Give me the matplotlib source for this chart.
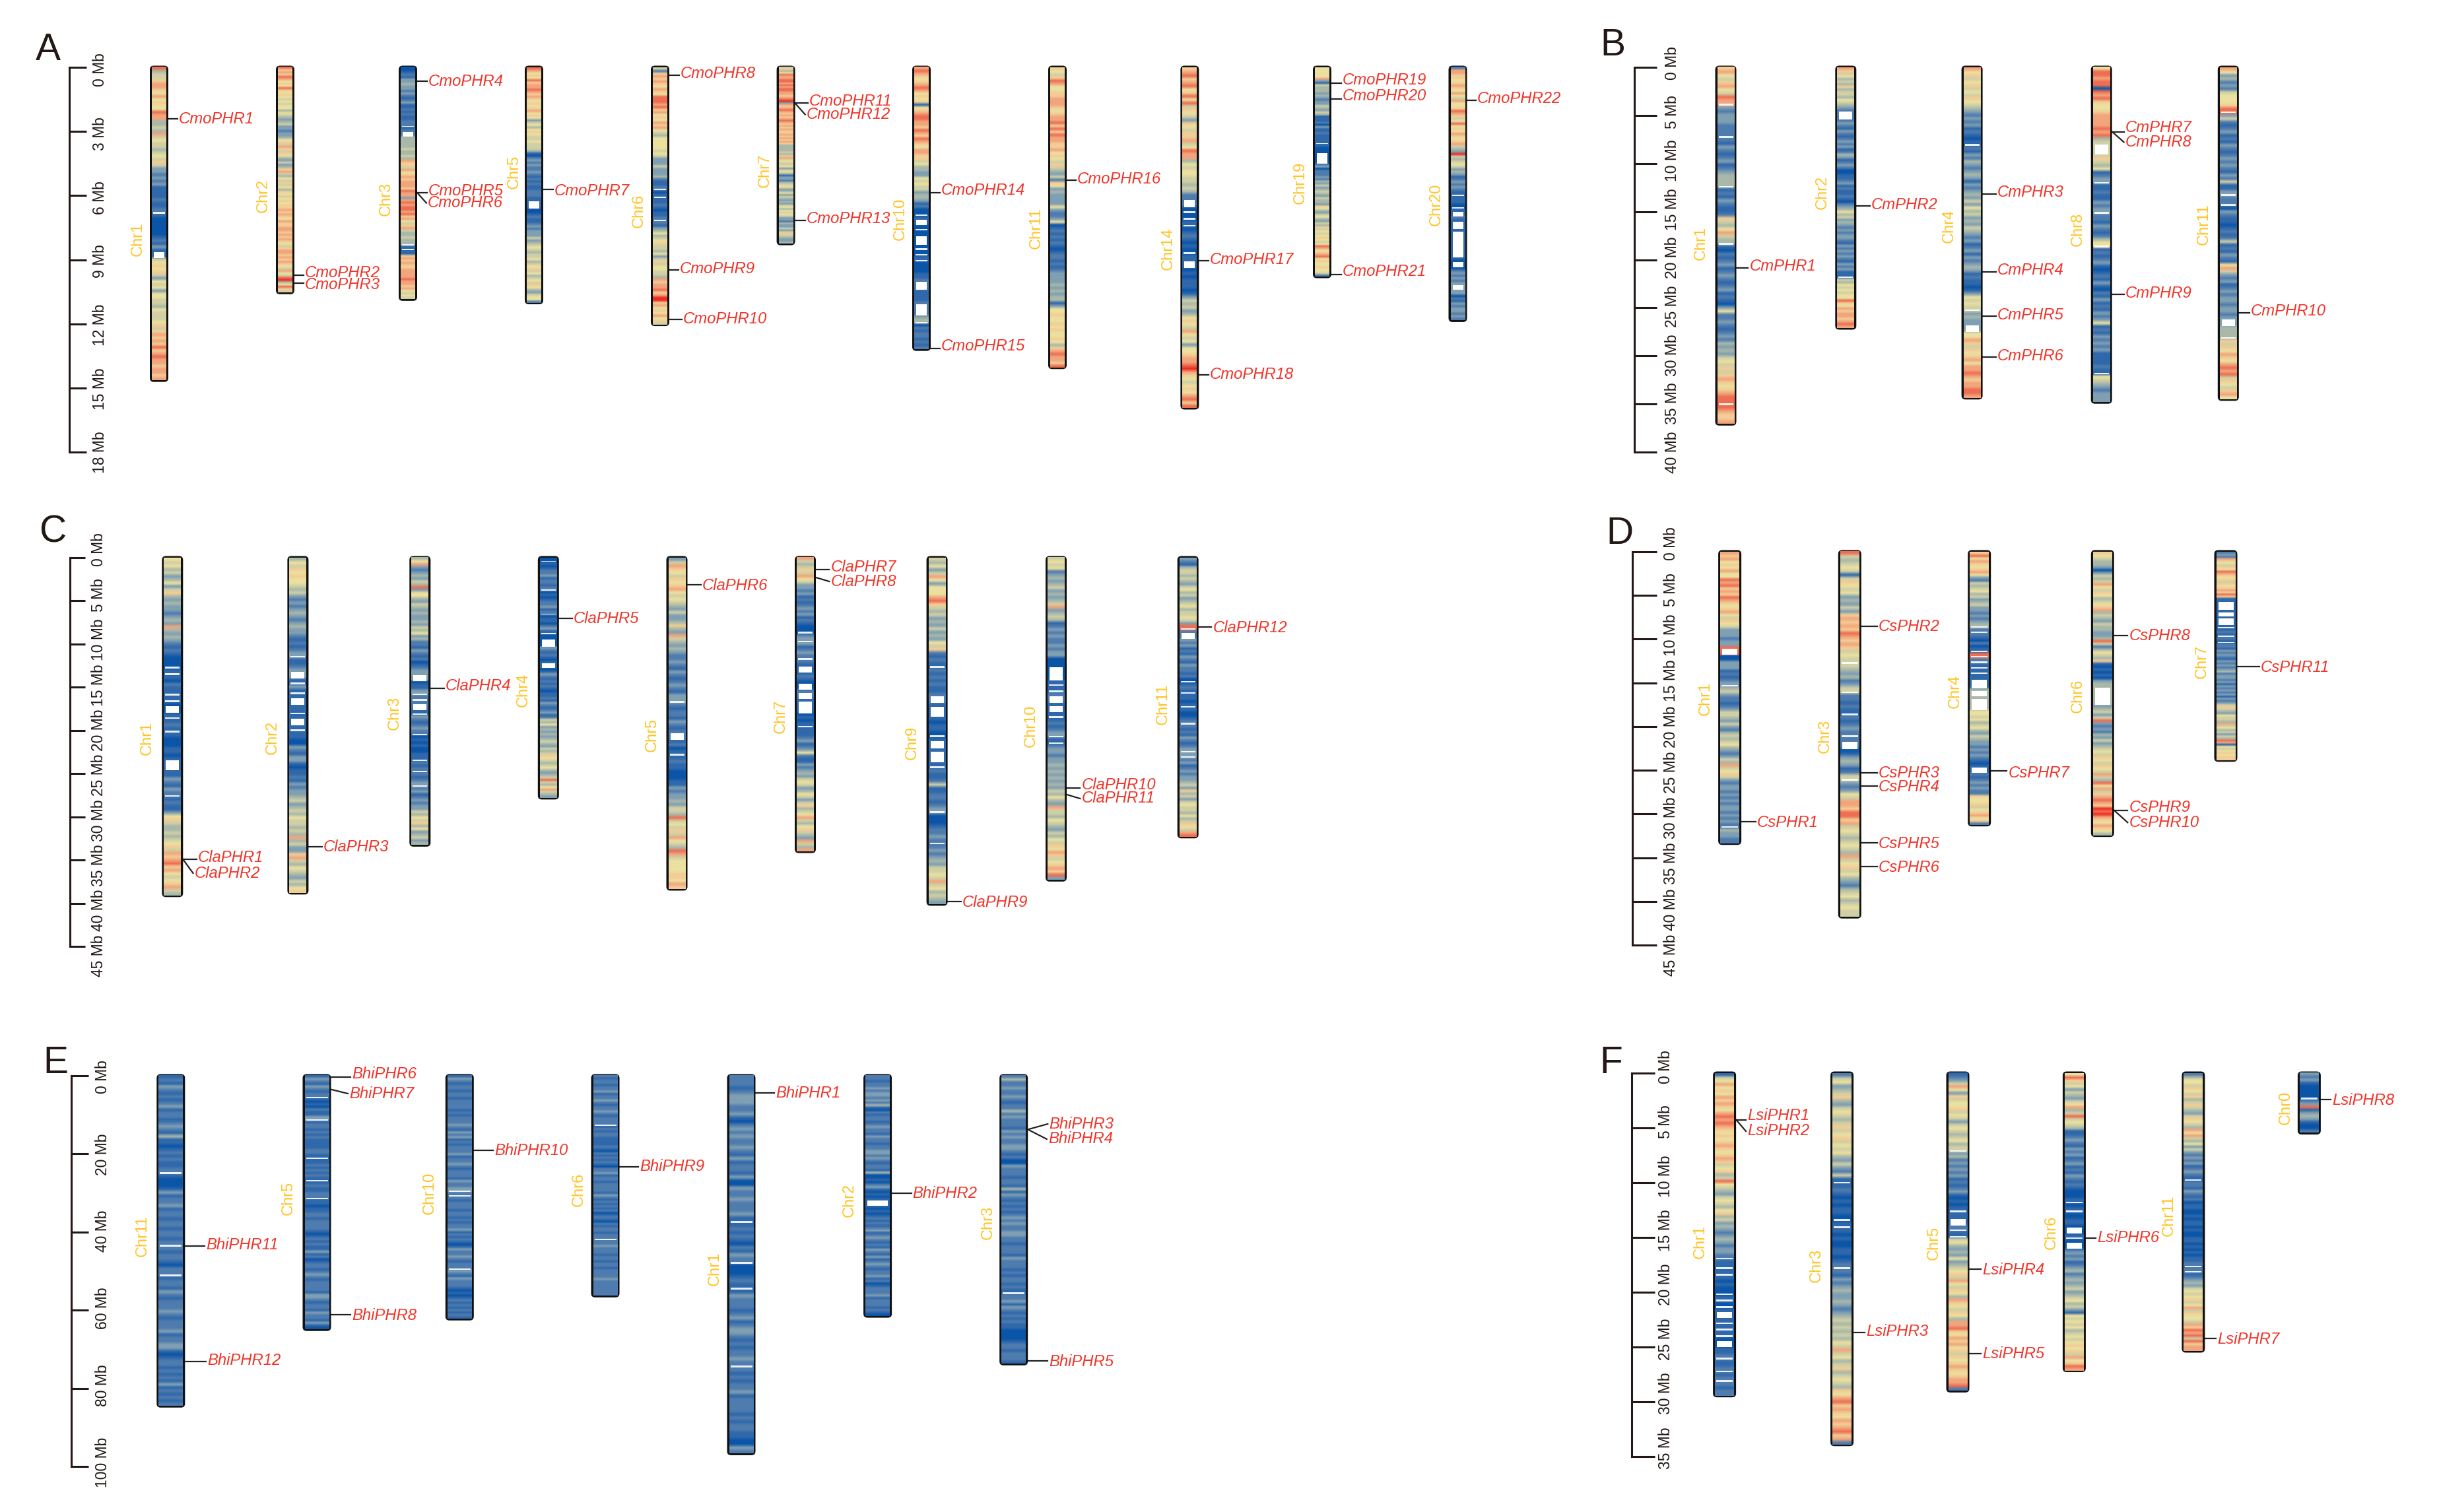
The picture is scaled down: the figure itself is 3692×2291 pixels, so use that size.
from itertools import groupby
import numpy as np
import matplotlib
matplotlib.use("Agg")
import matplotlib.pyplot as plt
from matplotlib.colors import to_rgb
from matplotlib.patches import FancyBboxPatch

plt.rcParams['font.family'] = ['Liberation Sans', 'DejaVu Sans']

W, H = 3692, 2291

# density classes 0 (dense, blue) .. 9, r (sparse, red), w = gap
dens_colors = {'0': '#0b55a8', '1': '#2f68ab', '2': '#4f7cae', '3': '#7f9fb3', '4': '#a9b8a9',
               '5': '#d0cfa5', '6': '#ebe09f', '7': '#f3cd95', '8': '#f2a57c', '9': '#ee6e52',
               'r': '#ee2b22', 'w': '#ffffff'}

# ---- panel A data
a_names = ['Chr1', 'Chr2', 'Chr3', 'Chr5', 'Chr6', 'Chr7', 'Chr10', 'Chr11', 'Chr14', 'Chr19', 'Chr20']
a_lens = [14.63, 10.53, 10.84, 11.0, 12.02, 8.24, 13.18, 14.03, 15.92, 9.78, 11.83]
a_bands = [
    '9455788768 6766988445 4856554565 7533232311 112112w100 000012131w w567675365 6366554655 5675787879 7898878878',
    '9787986769 7676565664 6543453323 3467587576 4353478546 5756476567 6778787687 7887878765 7887878765 8659r46975',
    '0012133433 2321231121 21122w12ww 4444454454 8775867878 8879883898 9989786578 544544w1w1 1787877888 8988786565',
    '9867697889 8787676786 7635646765 5655541023 2322321212 1122211www 0012112323 3353456545 5645675645 6576435662',
    '5278787687 6999897867 6878654666 6656533353 3342112w01 w11210112w 2134645675 5463575665 548788978r r786768675',
    '5746988998 989988789r 3878987878 9878787787 8787444454 7856556356 4133245653 4635434356 4656533243 3535754334',
    '8987678986 7671678998 8798798768 8775644336 5655344312 00w1ww0w00 www0w0w1w0 0001 12www1 1112wwww34 w021221212',
    '7657986677 8887678897 9798877867 6575435276 3433336322 3601212121 0122121233 3343434413 6676676766 7647898879',
    '7897896796 9576537657 7856988465 6655454 22w w0w0w1w012 1010w11ww0 1011101354 5346765865 6366788 9r8 7656768979',
    '6666683154 4434323354 3541112031 121111w100 0wwwww2302 2232435345 4354437643 5643547565 6765698678 9676676652',
    '2887767876 8658667987 5696768767 8543r54565 3431232321 w1110w1ww2 1www1wwwww wwwww10ww0 232323ww33 0213233232',
]
a_gene_chr = ['Chr1', 'Chr2', 'Chr2', 'Chr3', 'Chr3', 'Chr3', 'Chr5', 'Chr6', 'Chr6', 'Chr6', 'Chr7', 'Chr7', 'Chr7',
              'Chr10', 'Chr10', 'Chr11', 'Chr14', 'Chr14', 'Chr19', 'Chr19', 'Chr19', 'Chr20']
a_gene_mb = [2.42, 9.72, 10.09, 0.66, 5.86, 5.86, 5.71, 0.38, 9.47, 11.8, 1.68, 1.68, 7.15,
             5.86, 13.13, 5.27, 9.05, 14.38, 0.74, 1.49, 9.68, 1.53]

# ---- panel B data
b_names = ['Chr1', 'Chr2', 'Chr4', 'Chr8', 'Chr11']
b_lens = [37.07, 27.1, 34.36, 34.8, 34.5]
b_bands = [
    '7865786598 w32333222w 2132123123 444w121321 12754685 4w 1021231232 1231210362 2321232434 3565757876 7899w98778',
    '8756454745 546543 2www 2321321232 3124312320 0112312112 1023464534 3232332132 3232132311 w546565669 7687887898',
    '8675675657 6543232312 101w213243 2343132343 5364534354 3231231323 4312110136 565w3433ww 6687576786 8898788998',
    '6998990989 7667888898 945www5754 6123w11211 323w221321 246w121231 0121310213 1213236121 3232311112 1w65432333',
    '8634232566 679w352123 1213212323 2132511 3w2 2w03211012 1251213216 8532312323 323323ww44 4w75768768 9895765786',
]
b_gene_chr = ['Chr1', 'Chr2', 'Chr4', 'Chr4', 'Chr4', 'Chr4', 'Chr8', 'Chr8', 'Chr8', 'Chr11']
b_gene_mb = [20.86, 14.44, 13.15, 21.26, 25.86, 30.09, 6.69, 6.69, 23.6, 25.5]

# ---- panel C data
c_names = ['Chr1', 'Chr2', 'Chr3', 'Chr4', 'Chr5', 'Chr7', 'Chr9', 'Chr10', 'Chr11']
c_lens = [39.1, 38.8, 33.26, 27.8, 38.35, 34.0, 40.1, 37.3, 32.3]
c_bands = [
    '6564534635 7434332343 8434321210 00w1w10211 w1w0ww1w12 1w10001101 www1132132 w121136754 4545675878 9786567854',
    '4657676654 5323234323 433212123w 1123ww1w31 w1ww11w1ww 1w11003213 3101121323 3453454655 4548453378 5465435467',
    '4683234354 9366435434 3343546342 2132120123 3ww0113w2w 2ww1w32123 2w01010011 w212w2123w 2312323354 6574634534',
    '0w10122312 212w010122 312w011023 1w00www321 21 01ww0132 1212101121 3212312546 3434345435 4576545643 4595468543',
    '3587657678 6565435334 7438543432 2321321232 133w212213 212ww1201w 1211000113 2334355495 6575865498 5666677687',
    '8545758653 3231212323 12100w23w3 1232w21ww1 210ww2ww1w www0101w11 1231236211 3234356534 6535745685 4675438548',
    '5463586366 6897545343 5343657212 1w21212112 ww1www1011 0w1ww1www1 w21125112 2 123w000122 32w2323435 5658564543',
    '5656234345 3434583454 1232322323 3000wwww1w 1w2ww1ww1w 12123w1w23 3233434343 4354643855 4654354657 6875678793',
    '3214554543 5645345645 5653 9w2ww3 2312132132 2120w121w1 101w10012w 2121321 23w 3w23123233 4537453565 5464576589',
]
c_gene_chr = ['Chr1', 'Chr1', 'Chr2', 'Chr3', 'Chr4', 'Chr5', 'Chr7', 'Chr7', 'Chr9', 'Chr10', 'Chr10', 'Chr11']
c_gene_mb = [34.93, 34.93, 33.44, 15.16, 7.06, 3.12, 1.38, 2.29, 39.8, 26.65, 27.42, 8.0]

# ---- panel D data
d_names = ['Chr1', 'Chr3', 'Chr4', 'Chr6', 'Chr7']
d_lens = [33.35, 41.77, 31.23, 32.44, 23.84]
d_bands = [
    '8786768669 8978798767 8657653332 339 ww00 333 1212 3w4 53 2212355435 3245456432 3548567532 3323232332 3232w43322',
    '9545651576 5634353787 8798787565 w54342 35w2 2121w21232 w2ww013431 25w3236588 7997856545 6548567564 3245645655',
    '7968767863 2545645345 3323234w2w 2102 01w9w2 w1w1w11www 4ww4wwww66 5645643543 3232321 01w w212323227 6675678672',
    '7654430354 5865764567 8454354433 4952465471 0101034 4ww wwww345359 3232435345 6576576585 4968578987 r9r8768764',
    '2328765769 8767576787 9711wwww1w w1www1w121 w21w221323 2132323423 3231323231 3235754365 5485645354 9816567677',
]
d_gene_chr = ['Chr1', 'Chr3', 'Chr3', 'Chr3', 'Chr3', 'Chr3', 'Chr4', 'Chr6', 'Chr6', 'Chr6', 'Chr7']
d_gene_mb = [30.86, 8.5, 25.33, 26.8, 33.3, 36.05, 25.09, 9.58, 29.58, 29.58, 13.12]

# ---- panel E data
e_names = ['Chr11', 'Chr5', 'Chr10', 'Chr6', 'Chr1', 'Chr2', 'Chr3']
e_lens = [84.5, 64.9, 62.2, 56.3, 96.7, 61.5, 73.7]
e_bands = [
    '1213212123 1221232141 1012121 12w 1000131223 1221221221 2w21221022 w122132122 2321222312 2331012212 1213121212',
    '1321321 2w1 0102113w12 2121211112 21w1121212 1w121122w1 1011221222 2101212113 1201221232 1222213321 2213221310',
    '1321221221 2222121222 3213231212 2231223212 221322 3w2w 2122212212 1223121210 132232122w 3213222101 0121212121',
    '2122122312 2321223212 22w1212211 1121021212 1022312212 2221321212 1201210212 212 2w2232 2 2122122122 2232222222',
    '2221233322 3102323223 2131221300 3223222 31w 1212102132 w000121w132 2212312332 1212232w212 1223122221 2122110032',
    '2212232332 3241021221 2322132212 2332321221 4001023101 01ww101012 1212312321 2132131232 1223120122 2312221210',
    '2422322321 2242322213 2322332120 0322212214 1321212123 2322332212 2213222121 22121w2231 3212121100 0012212221',
]
e_gene_chr = ['Chr1', 'Chr2', 'Chr3', 'Chr3', 'Chr3', 'Chr5', 'Chr5', 'Chr5', 'Chr6', 'Chr10', 'Chr11', 'Chr11']
e_gene_mb = [4.37, 30.0, 13.75, 13.75, 72.9, 0.34, 3.5, 61.2, 23.3, 19.1, 43.6, 73.2]

# ---- panel F data
f_names = ['Chr1', 'Chr3', 'Chr5', 'Chr6', 'Chr11', 'Chr0']
f_lens = [29.44, 33.9, 29.0, 27.14, 25.36, 5.45]
f_bands = [
    '1568676878 7689898767 6787678756 7459654356 5467453432 3432332w11 w1w1010 0w1 w0w1ww1w1w 1w0ww112w1 12w12w2122',
    '2563457435 6545756756 564353251w 121010110w 1w10100110 12w2132343 3432345454 5465856457 4565476897 8768789782',
    '1235863756 6756535654 5645w34232 3231212310 101w11ww2w 1w56434363 4567586576 4876576488 9768786757 6787678 892',
    '6975635435 6845956541 1232132312 3121321210 001w01w001 10ww1w0ww2 3231234234 3453456453 1656564565 6767586798',
    '2466576574 5754357654 8685463532 3231232 1w2 2132120110 0101101001 1010101 12w 2w12343565 6756857665 8798 959788',
    '3231000 0w2 3913431002',
]
f_gene_chr = ['Chr1', 'Chr1', 'Chr3', 'Chr5', 'Chr5', 'Chr6', 'Chr11', 'Chr0']
f_gene_mb = [4.25, 4.25, 23.66, 17.9, 25.6, 15.06, 24.2, 2.4]

# ---- layout, pixels of the reference
panels = [
    dict(letter='A', lpos=(54, 91), prefix='CmoPHR', names=a_names, lens=a_lens, bands=a_bands,
         gchr=a_gene_chr, gmb=a_gene_mb, y0=102, ybot=685.4, tmax=18, tstep=3, ax_x=105, tick_x=131, lab_x=151,
         lab_off=(4, 0), width=28,
         x=[241, 432, 618, 809, 1000, 1190.6, 1396, 1602, 1802.4, 2003, 2208.5],
         lx=[208.5, 398.6, 585, 779, 967.7, 1159, 1364, 1569.6, 1769.5, 1970, 2176],
         ly=[362.6, 296.6, 301, 260, 319.5, 258.5, 331.5, 345.6, 376.7, 277, 309.5],
         gy=[180.8, 414, 432, 123.4, 289.4, 307.6, 289, 112, 407, 483, 153.6, 173.5, 332, 288.8, 524.7, 271, 394, 567, 121, 146, 411.5, 150],
         gx=[271, 462, 462, 648.6, 648.6, 648, 840, 1031, 1030, 1034.7, 1226, 1221.7, 1221.7, 1426, 1426, 1631.6, 1833, 1833, 2034, 2034, 2034, 2238]),
    dict(letter='B', lpos=(2424, 84), prefix='CmPHR', names=b_names, lens=b_lens, bands=b_bands,
         gchr=b_gene_chr, gmb=b_gene_mb, y0=102, ybot=685, tmax=40, tstep=5, ax_x=2476, tick_x=2510, lab_x=2533,
         lab_off=(-6, 0), width=32,
         x=[2614.5, 2796.3, 2987.6, 3183.7, 3375.8],
         lx=[2577, 2760.4, 2952.5, 3148, 3339],
         ly=[368, 291.6, 342, 347.4, 340],
         gy=[403.7, 310.8, 292, 409, 477.8, 540, 193.8, 215.3, 444.3, 471],
         gx=[2650.4, 2835, 3026, 3026, 3026, 3026, 3219.6, 3219.6, 3219.6, 3410]),
    dict(letter='C', lpos=(59, 822), prefix='ClaPHR', names=c_names, lens=c_lens, bands=c_bands,
         gchr=c_gene_chr, gmb=c_gene_mb, y0=845, ybot=1434, tmax=45, tstep=5, ax_x=106, tick_x=129, lab_x=150,
         lab_off=(-12, 14), width=32,
         x=[261.3, 451.4, 636.3, 830.8, 1025.5, 1220, 1419.6, 1600, 1799.7],
         lx=[223, 413, 598, 793, 987.7, 1182.4, 1381.4, 1561.9, 1761.5],
         ly=[1118.4, 1117, 1080.4, 1045, 1113.5, 1085, 1125, 1099.6, 1067],
         gy=[1299, 1323, 1284, 1039.8, 938, 887, 859.5, 881, 1367.5, 1189.8, 1210, 951.4],
         gx=[299.6, 294.5, 489.6, 674.6, 869, 1063.8, 1258.3, 1258.3, 1458, 1638.4, 1638.4, 1837.4]),
    dict(letter='D', lpos=(2433, 824), prefix='CsPHR', names=d_names, lens=d_lens, bands=d_bands,
         gchr=d_gene_chr, gmb=d_gene_mb, y0=836, ybot=1432, tmax=45, tstep=5, ax_x=2473, tick_x=2510, lab_x=2532,
         lab_off=(-12, 15), width=35,
         x=[2620.6, 2802.3, 2998.7, 3185.3, 3372],
         lx=[2583.5, 2765, 2961.6, 3147.5, 3335.5],
         ly=[1058.8, 1115, 1047.7, 1054.4, 1002],
         gy=[1246.3, 949.5, 1171.3, 1192.8, 1278.5, 1314.6, 1171, 963.3, 1224, 1246.3, 1011],
         gx=[2662, 2845.8, 2845.8, 2845.8, 2845.8, 2845.8, 3042.2, 3225.3, 3225.3, 3225.3, 3424.6]),
    dict(letter='E', lpos=(65, 1626), prefix='BhiPHR', names=e_names, lens=e_lens, bands=e_bands,
         gchr=e_gene_chr, gmb=e_gene_mb, y0=1630, ybot=2222, tmax=100, tstep=20, ax_x=108, tick_x=134, lab_x=155,
         lab_off=(2, -6), width=43,
         x=[258.8, 480, 696.3, 917, 1123, 1329.6, 1535.7],
         lx=[215.4, 437, 651, 876.7, 1083, 1287, 1496.4],
         ly=[1873, 1815.6, 1807.4, 1802, 1922.6, 1818, 1852],
         gy=[1656.8, 1808.3, 1703, 1726, 2063.6, 1627.9, 1657, 1993.3, 1768, 1744, 1886.8, 2061.7],
         gx=[1175, 1382.7, 1589.3, 1587.8, 1589.3, 533, 529, 533, 969, 749, 312.3, 314]),
    dict(letter='F', lpos=(2423, 1626), prefix='LsiPHR', names=f_names, lens=f_lens, bands=f_bands,
         gchr=f_gene_chr, gmb=f_gene_mb, y0=1626, ybot=2207, tmax=35, tstep=5, ax_x=2472, tick_x=2507, lab_x=2524,
         lab_off=(-9, -13), width=35,
         x=[2612.6, 2790.6, 2966, 3142.4, 3322.9, 3498.4],
         lx=[2575.5, 2751.8, 2929.8, 3107.8, 3285.8, 3463],
         ly=[1881.8, 1917.7, 1883.6, 1867.6, 1842, 1678],
         gy=[1690.8, 1714, 2017.9, 1924.3, 2052, 1876, 2029, 1667.7],
         gx=[2647, 2647, 2826.8, 3003, 3003, 3177, 3359, 3533]),
]

fig = plt.figure(figsize=(W / 100, H / 100), dpi=100, facecolor='white')

for p in panels:
    # one transparent axes per panel: x in image pixels, y in Mb
    ax = fig.add_axes([0, 0, 1, 1])
    ax.patch.set_alpha(0)
    ax.axis('off')
    mb_per_px = p['tmax'] / (p['ybot'] - p['y0'])
    to_mb = lambda ypx: (ypx - p['y0']) * mb_per_px

    # ruler
    ticks = np.arange(0, p['tmax'] + p['tstep'], p['tstep'])
    ax.plot([p['ax_x'], p['ax_x']], [0, p['tmax']], color='#231815', lw=2.2, solid_capstyle='projecting')
    offs = np.linspace(p['lab_off'][0], p['lab_off'][1], len(ticks))
    for t, o in zip(ticks, offs):
        ax.plot([p['ax_x'], p['tick_x']], [t, t], color='#231815', lw=2.2, solid_capstyle='butt')
        ax.text(p['lab_x'], t + o * mb_per_px, '%d Mb' % t, rotation=90, ha='center', va='center',
                fontsize=16.5, color='#231815')

    w = p['width']
    for i, name in enumerate(p['names']):
        x, L = p['x'][i], p['lens'][i]
        frame = FancyBboxPatch((x - w / 2, -2.5 * mb_per_px), w, L + 5 * mb_per_px,
                               boxstyle='round,pad=0,rounding_size=6', mutation_aspect=mb_per_px,
                               fc='#111111', ec='none', zorder=2)
        ax.add_patch(frame)
        codes = p['bands'][i].replace(' ', '')
        step = L / len(codes)

        # gaps take the colour of the band above, the white goes on afterwards
        filled = []
        last = codes[0] if codes[0] != 'w' else '1'
        for c in codes:
            last = c if c != 'w' else last
            filled.append(to_rgb(dens_colors[last]))
        strip = np.array([filled, filled, filled]).transpose(1, 0, 2)
        ax.imshow(strip, extent=(x - w / 2 + 3, x + w / 2 - 3, L, 0), aspect='auto',
                  interpolation='bilinear', zorder=3)

        pos = 0
        for c, run in groupby(codes):
            n = len(list(run))
            if c == 'w':
                if n == 1:
                    # a lone gap in the density track is only a thin line
                    ax.barh((pos + 0.5) * step, w - 10, height=step * 0.5, left=x - w / 2 + 5,
                            color='white', lw=0, alpha=0.9, zorder=4)
                else:
                    ax.barh((pos + n / 2) * step, w - 12, height=n * step, left=x - w / 2 + 6,
                            color='white', lw=0, zorder=4)
            pos += n

        ax.text(p['lx'][i], to_mb(p['ly'][i]), name, rotation=90, ha='center', va='center',
                fontsize=17, color='#ffc425')

    # genes
    for j, (chrom, mb) in enumerate(zip(p['gchr'], p['gmb'])):
        i = p['names'].index(chrom)
        edge = p['x'][i] + w / 2
        ly = p['gy'][j]
        end = mb if abs(ly - (p['y0'] + mb / mb_per_px)) < 6 else to_mb(ly)
        ax.plot([edge, p['gx'][j] - 2], [mb, end], color='#222222', lw=1.6, zorder=1)
        ax.text(p['gx'][j], to_mb(ly), '%s%d' % (p['prefix'], j + 1), ha='left', va='center',
                fontsize=17.2, style='italic', color='#f0352a')

    ax.text(p['lpos'][0], to_mb(p['lpos'][1]), p['letter'], ha='left', va='baseline', fontsize=41, color='#231815')

    ax.set_xlim(0, W)
    ax.set_ylim(to_mb(H), to_mb(0))

fig.savefig('out.png', dpi=100)
